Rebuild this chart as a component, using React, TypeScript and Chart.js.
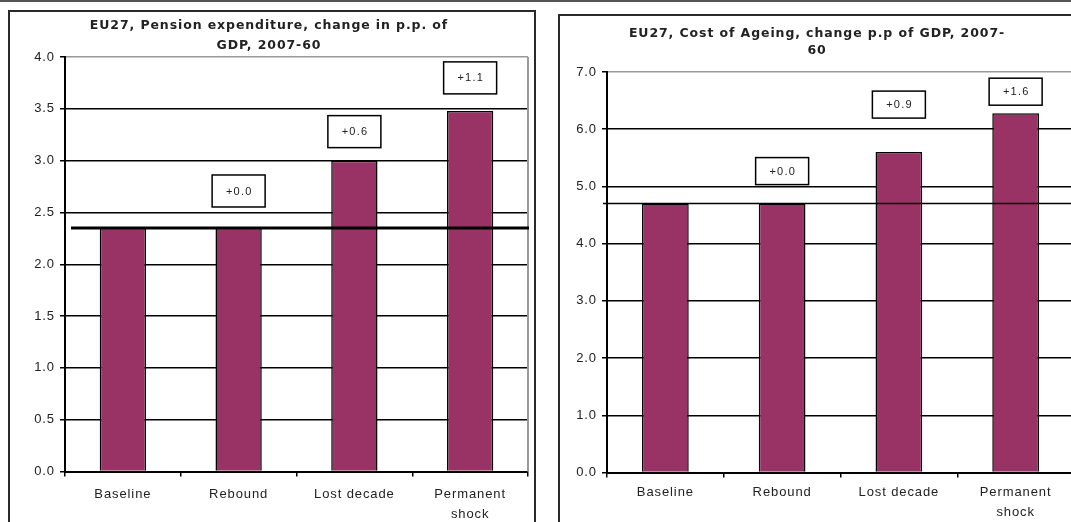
import React, { useEffect, useRef } from 'react';
import { Chart, registerables } from 'chart.js';

Chart.register(...registerables);

// ---- data ----
const categories: string[][] = [['Baseline'], ['Rebound'], ['Lost decade'], ['Permanent', 'shock']];

const pensionTitle = ['EU27, Pension expenditure, change in p.p. of', 'GDP, 2007-60'];
const pensionValues = [2.35, 2.35, 3.0, 3.48];
const pensionChangeLabels = ['', '+0.0', '+0.6', '+1.1'];
const pensionBaseline = 2.35;
const pensionAxis = { min: 0, max: 4, step: 0.5 };

const ageingTitle = ['EU27, Cost of Ageing, change p.p of GDP, 2007-', '60'];
const ageingValues = [4.7, 4.7, 5.6, 6.28];
const ageingChangeLabels = ['', '+0.0', '+0.9', '+1.6'];
const ageingBaseline = 4.7;
const ageingAxis = { min: 0, max: 7, step: 1 };

// ---- styles ----
const BAR = '#993366';
const SPACING = '0.9px';
const TICK_SIZE = 13;
const TITLE_SIZE = 12.5;

type Style = {
  left: number; top: number; width: number; height: number;
  yWidth: number; xHeight: number; padRight: number;
  titleLine: number; titleTop: number; titleBottom: number;
  xPad: number; xLine: number;
  boxW: number; boxH: number; gaps: number[];
  refWidth: number; refStart: number;
};

const pensionStyle: Style = {
  left: 8, top: 10, width: 524, height: 520,
  yWidth: 55, xHeight: 60.5, padRight: 6,
  titleLine: 20, titleTop: 3.5, titleBottom: 1.5,
  xPad: 7.5, xLine: 20,
  boxW: 53, boxH: 32, gaps: [0, 21, 13, 17],
  refWidth: 3, refStart: 6,
};

const ageingStyle: Style = {
  left: 558, top: 14, width: 530, height: 520,
  yWidth: 47, xHeight: 63.5, padRight: 16,
  titleLine: 17, titleTop: 9.5, titleBottom: 12.5,
  xPad: 4.5, xLine: 20,
  boxW: 53, boxH: 27, gaps: [0, 19, 34, 8],
  refWidth: 1.5, refStart: -4,
};

type Props = {
  title: string[]; values: number[]; changeLabels: string[]; baseline: number;
  axis: { min: number; max: number; step: number }; st: Style;
};

function BarPanel({ title, values, changeLabels, baseline, axis, st }: Props) {
  const ref = useRef<HTMLCanvasElement | null>(null);
  useEffect(() => {
    if (!ref.current) return;
    const deco = {
      id: 'deco',
      beforeDraw(chart: any) {
        chart.ctx.letterSpacing = SPACING;
      },
      beforeDatasetsDraw(chart: any) {
        const { ctx, chartArea: a } = chart;
        ctx.save();
        ctx.strokeStyle = '#9a9a9a';
        ctx.lineWidth = 2;
        ctx.beginPath();
        ctx.moveTo(a.right, a.top);
        ctx.lineTo(a.right, a.bottom);
        ctx.stroke();
        ctx.restore();
      },
      afterDatasetsDraw(chart: any) {
        const { ctx, chartArea: a } = chart;
        const yS = chart.scales.y;
        const yb = yS.getPixelForValue(baseline);
        ctx.save();
        ctx.strokeStyle = '#000';
        ctx.lineWidth = st.refWidth;
        ctx.beginPath();
        ctx.moveTo(a.left + st.refStart, yb);
        ctx.lineTo(a.right + 1, yb);
        ctx.stroke();
        const meta = chart.getDatasetMeta(0);
        changeLabels.forEach((t, i) => {
          if (!t) return;
          const bar = meta.data[i];
          const cx = bar.x;
          const bottom = bar.y - st.gaps[i];
          const y0 = bottom - st.boxH;
          ctx.fillStyle = '#fff';
          ctx.fillRect(cx - st.boxW / 2, y0, st.boxW, st.boxH);
          ctx.strokeStyle = '#000';
          ctx.lineWidth = 1.5;
          ctx.strokeRect(cx - st.boxW / 2, y0, st.boxW, st.boxH);
          ctx.letterSpacing = '1.2px';
          ctx.font = '11px "Liberation Sans"';
          ctx.textAlign = 'center';
          ctx.textBaseline = 'middle';
          ctx.fillStyle = '#222';
          ctx.fillText(t, cx + 0.6, y0 + st.boxH / 2 + 0.5);
        });
        ctx.restore();
      },
    };
    const chart = new Chart(ref.current, {
      type: 'bar',
      data: {
        labels: categories,
        datasets: [{
          data: values,
          backgroundColor: BAR,
          borderColor: '#000',
          borderWidth: 1.5,
          barPercentage: 0.4,
          categoryPercentage: 1,
        }],
      },
      options: {
        responsive: false,
        animation: false,
        devicePixelRatio: 1,
        layout: { padding: { left: 0, right: st.padRight, top: 0, bottom: 0 } },
        plugins: {
          legend: { display: false },
          tooltip: { enabled: false },
          title: {
            display: true,
            text: title,
            color: '#222',
            font: { family: 'DejaVu Sans', weight: 'bold', size: TITLE_SIZE, lineHeight: st.titleLine / TITLE_SIZE },
            padding: { top: st.titleTop, bottom: st.titleBottom },
          },
        },
        scales: {
          x: {
            offset: true,
            grid: {
              display: true, drawOnChartArea: false, drawTicks: true, offset: true,
              tickLength: 5, tickColor: '#000', lineWidth: 1.5, color: '#000',
            },
            border: { display: true, color: '#000', width: 2 },
            ticks: {
              color: '#222', autoSkip: false, maxRotation: 0, padding: st.xPad,
              font: { family: 'Liberation Sans', size: TICK_SIZE, lineHeight: st.xLine / TICK_SIZE },
            },
            afterFit: (s: any) => { s.height = st.xHeight; },
          },
          y: {
            min: axis.min, max: axis.max,
            grid: {
              color: (c: any) => (c.tick && c.tick.value === axis.max ? '#9a9a9a' : '#000'),
              lineWidth: 1.5, tickLength: 5, tickColor: '#000', drawTicks: true,
            },
            border: { display: true, color: '#000', width: 2 },
            ticks: {
              stepSize: axis.step, padding: 5, color: '#222',
              font: { family: 'Liberation Sans', size: TICK_SIZE },
              callback: (v: any) => Number(v).toFixed(1),
            },
            afterFit: (s: any) => { s.width = st.yWidth; },
          },
        },
      },
      plugins: [deco],
    });
    return () => chart.destroy();
  }, []);
  return (
    <div style={{
      position: 'absolute', left: st.left, top: st.top,
      border: '2px solid #2a2a2a', background: '#fff', lineHeight: 0,
    }}>
      <canvas ref={ref} width={st.width} height={st.height} style={{ display: 'block' }} />
    </div>
  );
}

export default function App() {
  return (
    <div style={{
      position: 'fixed', left: 0, top: 0, width: 1071, height: 522,
      overflow: 'hidden', background: '#fff',
    }}>
      <div style={{ position: 'absolute', left: 0, top: 0, width: 1071, height: 2, background: '#555' }} />
      <BarPanel title={pensionTitle} values={pensionValues} changeLabels={pensionChangeLabels}
        baseline={pensionBaseline} axis={pensionAxis} st={pensionStyle} />
      <BarPanel title={ageingTitle} values={ageingValues} changeLabels={ageingChangeLabels}
        baseline={ageingBaseline} axis={ageingAxis} st={ageingStyle} />
    </div>
  );
}
